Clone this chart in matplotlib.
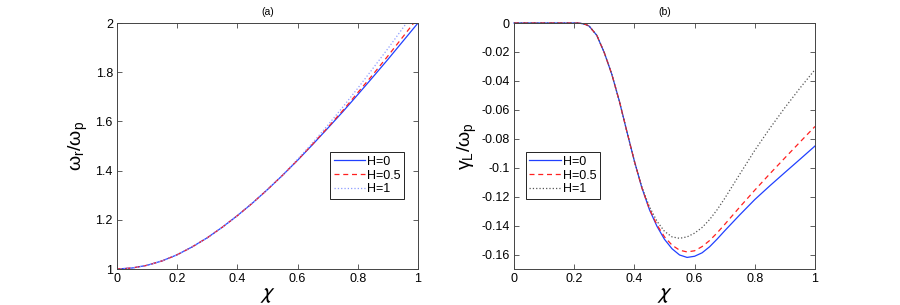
import matplotlib
matplotlib.use("Agg")
import matplotlib.pyplot as plt
from matplotlib.ticker import FormatStrFormatter

plt.rcParams['font.family'] = ['Liberation Sans', 'DejaVu Sans']

# panel (a): real frequency
chi_a = [0.0, 0.05, 0.1, 0.15, 0.2, 0.25, 0.3, 0.35, 0.4, 0.45, 0.5,
         0.55, 0.6, 0.65, 0.7, 0.75, 0.8, 0.85, 0.9, 0.95, 1.0]
omega_h0 = [1.000, 1.004, 1.015, 1.033, 1.058, 1.090, 1.127, 1.170, 1.217, 1.268, 1.323,
            1.381, 1.442, 1.506, 1.572, 1.639, 1.709, 1.780, 1.852, 1.926, 2.000]
omega_h05 = [1.000, 1.004, 1.015, 1.033, 1.058, 1.090, 1.127, 1.170, 1.217, 1.268, 1.323,
             1.381, 1.443, 1.508, 1.575, 1.644, 1.717, 1.790, 1.866, 1.944, 2.022]
omega_h1 = [1.000, 1.004, 1.015, 1.033, 1.058, 1.090, 1.127, 1.170, 1.217, 1.268, 1.323,
            1.382, 1.446, 1.513, 1.584, 1.658, 1.735, 1.815, 1.896, 1.980, 2.063]

# panel (b): Landau damping rate
chi_b = [0.0, 0.1, 0.2, 0.21, 0.22, 0.23, 0.24, 0.25, 0.275, 0.3, 0.325, 0.35, 0.375,
         0.4, 0.425, 0.45, 0.475, 0.5, 0.525, 0.55, 0.575, 0.6, 0.625, 0.65, 0.675,
         0.7, 0.75, 0.8, 0.85, 0.9, 0.95, 1.0]
gamma_h0 = [0.0, 0.0, 0.0, 0.0, -0.0002, -0.0006, -0.0012, -0.0022, -0.0085, -0.0205,
            -0.0355, -0.0540, -0.0750, -0.0955, -0.1140, -0.1290, -0.1405, -0.1495,
            -0.1560, -0.1603, -0.1620, -0.1612, -0.1588, -0.1546, -0.1493,
            -0.1436, -0.1326, -0.1220, -0.1125, -0.1033, -0.0942, -0.0850]
gamma_h05 = [0.0, 0.0, 0.0, 0.0, -0.0002, -0.0006, -0.0012, -0.0022, -0.0085, -0.0205,
             -0.0355, -0.0540, -0.0750, -0.0955, -0.1140, -0.1285, -0.1395, -0.1478,
             -0.1535, -0.1570, -0.1582, -0.1574, -0.1545, -0.1503, -0.1450,
             -0.1392, -0.1272, -0.1155, -0.1042, -0.0932, -0.0823, -0.0715]
gamma_h1 = [0.0, 0.0, 0.0, 0.0, -0.0002, -0.0006, -0.0012, -0.0022, -0.0085, -0.0205,
            -0.0355, -0.0540, -0.0750, -0.0955, -0.1135, -0.1270, -0.1370, -0.1440,
            -0.1478, -0.1488, -0.1478, -0.1452, -0.1413, -0.1358, -0.1290,
            -0.1212, -0.1045, -0.0880, -0.0728, -0.0585, -0.0450, -0.0322]

labels = ['H=0', 'H=0.5', 'H=1']

fig = plt.figure(figsize=(9, 3.05), dpi=100)
ax1 = fig.add_axes([117/900, 36/305, 301/900, 246/305])
ax2 = fig.add_axes([514/900, 36/305, 301/900, 246/305])

lw = 0.9
ax1.plot(chi_a, omega_h0, '-', color='#2040ff', lw=lw, label=labels[0])
ax1.plot(chi_a, omega_h05, '--', color='#ff2020', lw=lw, label=labels[1], dashes=(4, 3))
ax1.plot(chi_a, omega_h1, ':', color='#8c9cff', lw=lw, label=labels[2])

# values stay inside the limits, so let the zero stretch show on the top frame
ax2.plot(chi_b, gamma_h0, '-', color='#2040ff', lw=lw, label=labels[0], clip_on=False)
ax2.plot(chi_b, gamma_h05, '--', color='#ff2020', lw=lw, label=labels[1], dashes=(4, 3),
         clip_on=False)
ax2.plot(chi_b, gamma_h1, ':', color='#555555', lw=lw, label=labels[2], clip_on=False)

ax1.set_xlim(0, 1)
ax1.set_ylim(1, 2)
ax1.set_yticks([1, 1.2, 1.4, 1.6, 1.8, 2])
ax2.set_xlim(0, 1)
ax2.set_ylim(-0.17, 0)
ax2.set_yticks([0, -0.02, -0.04, -0.06, -0.08, -0.1, -0.12, -0.14, -0.16])

for ax, title, legx in [(ax1, '(a)', 0.708), (ax2, '(b)', 0.039)]:
    ax.set_xticks([0, 0.2, 0.4, 0.6, 0.8, 1])
    ax.xaxis.set_major_formatter(FormatStrFormatter('%g'))
    ax.yaxis.set_major_formatter(FormatStrFormatter('%g'))
    ax.tick_params(direction='in', length=3.5, width=0.6, top=True, right=True,
                   labelsize=9, pad=3, color='#444444')
    for s in ax.spines.values():
        s.set_linewidth(0.7)
        s.set_color('#444444')
    ax.set_title(title, fontsize=7.5, pad=6)
    ax.set_xlabel(r'$\chi$', fontsize=16, labelpad=-1, math_fontfamily='stixsans')
    leg = ax.legend(loc='upper left', bbox_to_anchor=(legx, 0.476), fontsize=9,
                    fancybox=False, edgecolor='black', framealpha=1,
                    borderpad=0.3, labelspacing=0.15, handlelength=2.5,
                    handletextpad=0.15, borderaxespad=0)
    leg.get_frame().set_linewidth(0.6)

ax1.set_ylabel(r'$\mathregular{\omega_r/\omega_p}$', fontsize=14, labelpad=4)
ax2.set_ylabel(r'$\mathregular{\gamma_L/\omega_p}$', fontsize=14, labelpad=2)

fig.savefig('out.png', dpi=100)
